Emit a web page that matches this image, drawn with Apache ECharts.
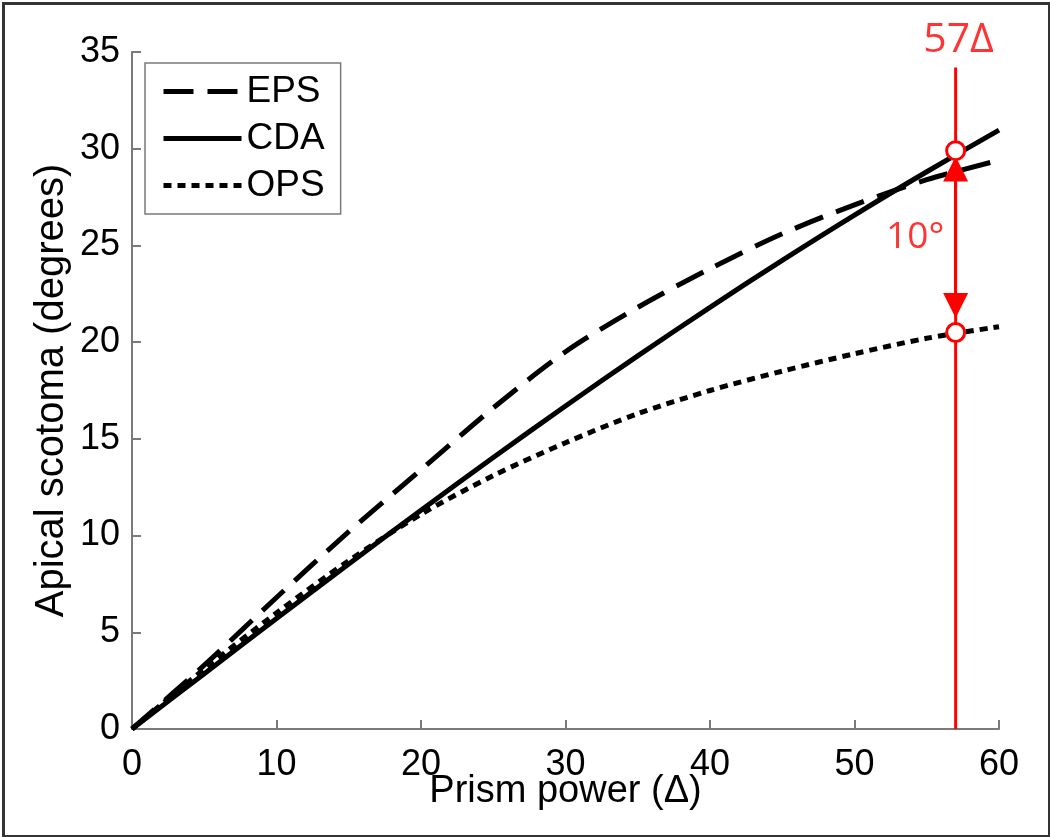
<!DOCTYPE html>
<html>
<head>
<meta charset="utf-8">
<script src="https://cdn.jsdelivr.net/npm/echarts@6/dist/echarts.min.js"></script>
<style>
html,body{margin:0;padding:0;background:#fff;}
#chart{width:1050px;height:837px;}
</style>
</head>
<body>
<div id="chart"></div>
<script>
// ---- data ----
const prismPower = [0, 5, 10, 15, 20, 25, 30, 35, 40, 45, 50, 55, 60];
const epsValues = [0, 3.3, 6.8, 10.2, 13.4, 16.6, 19.5, 21.8, 23.8, 25.6, 27.1, 28.4, 29.4];
const cdaValues = [0, 2.86, 5.71, 8.53, 11.31, 14.04, 16.70, 19.29, 21.80, 24.23, 26.57, 28.81, 30.96];
const opsValues = [0, 3.1, 6.0, 8.7, 11.1, 13.1, 14.8, 16.3, 17.5, 18.5, 19.4, 20.2, 20.8];
const seriesNames = ['EPS', 'CDA', 'OPS'];
const markerPower = 57;
const markerTop = 34.2;
const markerCircles = [29.9, 20.5];
const arrowEnds = [21.9, 28.95];
const markerLabel = '57Δ';
const markerLabelPos = [57.2, 35.6];
const diffLabel = '10°';
const diffLabelPos = [54.2, 25.4];
const xTitle = 'Prism power (Δ)';
const yTitle = 'Apical scotoma (degrees)';

const pairs = v => prismPower.map((x, i) => [x, v[i]]);
const axisGray = '#7a7a7a';
const red = '#ff0000';
const font = 'Liberation Sans, Arial, sans-serif';
const redFont = 'Open Sans, sans-serif';
const lineStyles = {
  EPS: {color: '#000', width: 5, type: [30, 14], cap: 'butt'},
  CDA: {color: '#000', width: 5, type: 'solid'},
  OPS: {color: '#000', width: 5, type: [8, 6], cap: 'butt'}
};

const chart = echarts.init(document.getElementById('chart'));
chart.setOption({
  animation: false,
  backgroundColor: '#fff',
  graphic: [{
    type: 'rect', left: 1, top: 1, z: 100, silent: true,
    shape: {width: 1046, height: 833},
    style: {fill: 'none', stroke: '#333', lineWidth: 3}
  }],
  grid: {left: 132, top: 52, width: 867, height: 677},
  legend: {
    data: seriesNames.map(n => ({name: n, lineStyle: lineStyles[n],
      itemStyle: {opacity: 0, color: 'transparent', borderWidth: 0}})),
    orient: 'vertical',
    left: 145, top: 63,
    padding: [10, 16, 10, 16],
    itemWidth: 78, itemHeight: 20, itemGap: 10,
    borderColor: axisGray, borderWidth: 1.5,
    textStyle: {fontFamily: font, fontSize: 37, color: '#000'}
  },
  xAxis: {
    type: 'value', min: 0, max: 60, interval: 10,
    name: xTitle, nameLocation: 'middle', nameGap: 44, nameMoveOverlap: false,
    nameTextStyle: {fontFamily: font, fontSize: 38, color: '#000', verticalAlign: 'top'},
    axisLine: {lineStyle: {color: axisGray, width: 2}},
    axisTick: {inside: true, length: 9, lineStyle: {color: axisGray, width: 2}},
    axisLabel: {fontFamily: font, fontSize: 36, color: '#000', margin: 18},
    splitLine: {show: false}
  },
  yAxis: {
    type: 'value', min: 0, max: 35, interval: 5,
    name: yTitle, nameLocation: 'middle', nameGap: 60, nameRotate: 90, nameMoveOverlap: false,
    nameTextStyle: {fontFamily: font, fontSize: 40, color: '#000'},
    axisLine: {lineStyle: {color: axisGray, width: 2}},
    axisTick: {inside: true, length: 9, lineStyle: {color: axisGray, width: 2}},
    axisLabel: {fontFamily: font, fontSize: 36, color: '#000', margin: 12},
    splitLine: {show: false}
  },
  series: [
    {name: 'EPS', type: 'line', data: pairs(epsValues), smooth: 0.3, symbol: 'none', showSymbol: false,
     lineStyle: lineStyles.EPS, itemStyle: {color: '#000'}},
    {name: 'CDA', type: 'line', data: pairs(cdaValues), smooth: 0.3, symbol: 'none', showSymbol: false,
     lineStyle: lineStyles.CDA, itemStyle: {color: '#000'}},
    {name: 'OPS', type: 'line', data: pairs(opsValues), smooth: 0.3, symbol: 'none', showSymbol: false,
     lineStyle: lineStyles.OPS, itemStyle: {color: '#000'}},
    {name: 'marker', type: 'line', symbol: 'none', z: 5,
     lineStyle: {color: red, width: 3},
     data: [[markerPower, 0], [markerPower, markerTop]],
     markLine: {
       silent: true, symbol: ['triangle', 'triangle'], symbolSize: 25,
       label: {show: false},
       lineStyle: {color: red, width: 3, type: 'solid'},
       data: [[{coord: [markerPower, arrowEnds[0]]}, {coord: [markerPower, arrowEnds[1]]}]]
     }},
    {name: 'circles', type: 'scatter', z: 6, symbol: 'circle', symbolSize: 18,
     itemStyle: {color: '#fff', borderColor: red, borderWidth: 3, opacity: 1},
     data: markerCircles.map(v => [markerPower, v])},
    {name: 'labels', type: 'scatter', z: 6, symbolSize: 1, clip: false,
     itemStyle: {color: 'transparent'},
     label: {show: true, position: 'inside', color: red, fontFamily: redFont,
             formatter: p => p.data.text},
     data: [{value: markerLabelPos, text: markerLabel, label: {fontSize: 41}},
            {value: diffLabelPos, text: diffLabel, label: {fontSize: 37}}]}
  ]
});
</script>
</body>
</html>
